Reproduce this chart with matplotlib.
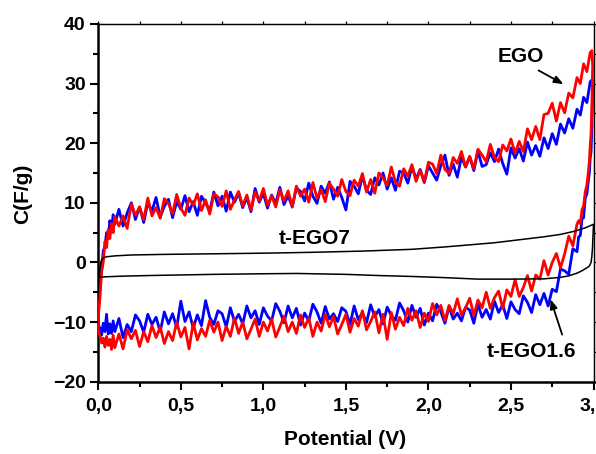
import numpy as np
import matplotlib
matplotlib.use("Agg")
import matplotlib.pyplot as plt
from matplotlib.ticker import MultipleLocator, FixedLocator

plt.rcParams['font.family'] = ['Liberation Sans', 'DejaVu Sans']
plt.rcParams['font.weight'] = 'bold'

# ---------------- data ----------------
x_ticks = [0.0, 0.5, 1.0, 1.5, 2.0, 2.5, 3.0]
x_tick_labels = ["0,0", "0,5", "1,0", "1,5", "2,0", "2,5", "3,0"]
y_ticks = [-20, -10, 0, 10, 20, 30, 40]

# forward (anodic) sweep potentials, V
potential_fwd = [0.00, 0.01, 0.02, 0.03, 0.04, 0.05, 0.06, 0.07, 0.08, 0.09,
                 0.100, 0.125, 0.150, 0.175, 0.200, 0.225, 0.250, 0.275,
                 0.300, 0.325, 0.350, 0.375, 0.400, 0.425, 0.450, 0.475,
                 0.500, 0.525, 0.550, 0.575, 0.600, 0.625, 0.650, 0.675,
                 0.700, 0.725, 0.750, 0.775, 0.800, 0.825, 0.850, 0.875,
                 0.900, 0.925, 0.950, 0.975, 1.000, 1.025, 1.050, 1.075,
                 1.100, 1.125, 1.150, 1.175, 1.200, 1.225, 1.250, 1.275,
                 1.300, 1.325, 1.350, 1.375, 1.400, 1.425, 1.450, 1.475,
                 1.500, 1.525, 1.550, 1.575, 1.600, 1.625, 1.650, 1.675,
                 1.700, 1.725, 1.750, 1.775, 1.800, 1.825, 1.850, 1.875,
                 1.900, 1.925, 1.950, 1.975, 2.000, 2.025, 2.050, 2.075,
                 2.100, 2.125, 2.150, 2.175, 2.200, 2.225, 2.250, 2.275,
                 2.300, 2.325, 2.350, 2.375, 2.400, 2.425, 2.450, 2.475,
                 2.500, 2.525, 2.550, 2.575, 2.600, 2.625, 2.650, 2.675,
                 2.700, 2.725, 2.750, 2.775, 2.800, 2.825, 2.850, 2.875,
                 2.900, 2.92, 2.94, 2.96, 2.98, 2.99]

# reverse (cathodic) sweep potentials, V
potential_rev = [2.995, 2.99, 2.985, 2.98, 2.975, 2.97, 2.96, 2.95, 2.94, 2.93, 2.92, 2.91,
                 2.900, 2.875, 2.850, 2.825, 2.800, 2.775, 2.750, 2.725,
                 2.700, 2.675, 2.650, 2.625, 2.600, 2.575, 2.550, 2.525,
                 2.500, 2.475, 2.450, 2.425, 2.400, 2.375, 2.350, 2.325,
                 2.300, 2.275, 2.250, 2.225, 2.200, 2.175, 2.150, 2.125,
                 2.100, 2.075, 2.050, 2.025, 2.000, 1.975, 1.950, 1.925,
                 1.900, 1.875, 1.850, 1.825, 1.800, 1.775, 1.750, 1.725,
                 1.700, 1.675, 1.650, 1.625, 1.600, 1.575, 1.550, 1.525,
                 1.500, 1.475, 1.450, 1.425, 1.400, 1.375, 1.350, 1.325,
                 1.300, 1.275, 1.250, 1.225, 1.200, 1.175, 1.150, 1.125,
                 1.100, 1.075, 1.050, 1.025, 1.000, 0.975, 0.950, 0.925,
                 0.900, 0.875, 0.850, 0.825, 0.800, 0.775, 0.750, 0.725,
                 0.700, 0.675, 0.650, 0.625, 0.600, 0.575, 0.550, 0.525,
                 0.500, 0.475, 0.450, 0.425, 0.400, 0.375, 0.350, 0.325,
                 0.300, 0.275, 0.250, 0.225, 0.200, 0.175, 0.150, 0.125,
                 0.100,
                 0.09, 0.08, 0.07, 0.06, 0.05, 0.04, 0.03, 0.02, 0.01, 0.00]

# EGO (red), capacitance F/g
ego_fwd = [-9.0, -6.0, -1.5, 0.0, 3.5, 2.5, 5.5, 4.0, 6.5, 5.0,
           7.7, 6.1, 7.8, 5.7,
           9.8, 7.9, 9.3, 7.2,
           10.8, 7.8, 9.2, 7.4,
           10.7, 9.9, 8.2, 11.4,
           9.1, 7.9, 10.8, 9.6,
           11.5, 8.7, 10.5, 8.1,
           11.5, 11.0, 9.4, 12.0,
           8.9, 10.5, 11.9, 9.5,
           11.3, 8.8, 11.8, 10.3,
           12.4, 9.6, 11.2, 9.3,
           12.2, 10.3, 12.0, 9.3,
           12.8, 11.1, 12.3, 10.1,
           13.4, 10.8, 12.2, 10.2,
           13.3, 12.3, 11.1, 13.9,
           11.9, 11.2, 13.8, 12.8,
           14.9, 11.8, 13.9, 11.6,
           15.0, 14.2, 12.9, 16.0,
           13.5, 12.8, 15.7, 14.5,
           16.4, 13.6, 15.5, 13.5,
           16.8, 16.5, 14.9, 18.0,
           15.6, 14.9, 17.6, 16.6,
           18.6, 16.0, 17.8, 15.7,
           19.0, 18.0, 16.9, 19.8,
           17.6, 16.9, 19.7, 18.7,
           20.7, 18.3, 20.3, 18.6,
           22.4, 20.6, 22.8, 20.6,
           24.8, 25.0, 26.7, 23.7,
           26.8, 25.1, 28.4, 27.6,
           31.0, 30.0, 33.3, 32.0, 35.2, 35.5]
ego_rev = [33.0, 26.0, 21.5, 19.5, 17.0, 15.5, 13.0, 11.8, 9.5, 8.8, 6.5, 7.0,
           6.4, 2.8, 4.4, 1.4,
           -0.9, 1.5, 0.0, -2.1,
           0.3, -2.8, -2.1, -4.8,
           -2.2, -4.2, -5.7, -2.9,
           -5.7, -4.6, -7.7, -4.8,
           -5.9, -7.7, -5.0, -7.6,
           -6.3, -8.9, -6.0, -7.6,
           -8.8, -6.1, -8.6, -7.2,
           -9.8, -7.2, -8.8, -6.9,
           -9.9, -8.5, -10.9, -8.1,
           -9.7, -7.7, -10.6, -9.2,
           -11.2, -8.4, -12.9, -8.7,
           -11.8, -8.3, -9.9, -11.3,
           -8.1, -10.7, -9.4, -11.7,
           -8.7, -10.4, -12.0, -9.1,
           -10.8, -8.7, -11.5, -10.0,
           -12.4, -9.3, -10.9, -8.8,
           -11.9, -10.0, -11.6, -9.0,
           -10.8, -12.5, -9.5, -11.5,
           -10.0, -12.4, -9.5, -11.2,
           -12.8, -10.0, -11.9, -9.3,
           -12.4, -10.7, -13.1, -10.0,
           -11.7, -9.7, -12.4, -11.1,
           -13.0, -10.1, -14.5, -10.9,
           -12.5, -10.0, -13.1, -11.6,
           -13.6, -10.8, -12.6, -10.6,
           -13.3, -11.6, -14.1, -11.4,
           -12.8, -11.3, -14.5, -12.0,
           -14.3,
           -12.2, -14.6, -12.9, -13.9, -12.4, -14.2, -12.7, -13.5, -12.3, -11.5]

# t-EGO1.6 (blue), capacitance F/g
tego16_fwd = [-7.5, -3.5, -1.5, 2.0, 2.5, 5.0, 4.0, 7.0, 5.5, 8.0,
              6.4, 8.9, 6.1, 8.3,
              10.0, 7.2, 9.3, 6.7,
              10.0, 8.6, 10.9, 7.6,
              9.4, 10.6, 7.5, 10.2,
              8.9, 11.2, 8.5, 10.2,
              7.9, 11.1, 10.0, 8.6,
              11.8, 9.5, 11.1, 8.6,
              11.8, 10.1, 11.6, 9.2,
              10.9, 8.5, 12.4, 10.1,
              11.6, 9.1, 11.3, 9.9,
              12.6, 9.7, 11.2, 9.3,
              12.5, 11.9, 10.3, 13.3,
              11.1, 9.9, 12.8, 11.6,
              13.5, 10.6, 12.6, 10.9,
              8.8, 13.6, 12.8, 11.5,
              14.5, 12.1, 11.4, 14.2,
              13.0, 15.0, 12.3, 14.2,
              12.1, 15.3, 15.0, 13.3,
              16.1, 14.0, 15.6, 13.4,
              16.2, 15.0, 13.8, 16.2,
              18.0, 14.6, 16.5, 14.3,
              17.7, 16.0, 17.7, 15.4,
              18.7, 16.1, 16.4, 18.4,
              16.9, 19.0, 16.6, 14.8,
              19.2, 17.5, 19.1, 17.0,
              20.2, 18.0, 19.6, 17.8,
              20.9, 19.1, 21.6, 19.8,
              23.2, 21.7, 24.1, 22.5,
              25.7, 24.7, 27.7, 26.8, 30.3, 30.6]
tego16_rev = [29.5, 22.5, 18.5, 17.5, 15.0, 14.0, 11.5, 10.8, 7.5, 7.3, 4.5, 4.3,
              1.8, 2.3, -2.0, -1.4,
              -1.1, -4.9, -4.5, -7.3,
              -5.2, -7.1, -5.4, -8.4,
              -6.7, -5.6, -8.6, -7.9,
              -6.6, -9.4, -7.1, -8.4,
              -6.5, -9.5, -7.9, -9.2,
              -7.0, -10.2, -8.0, -7.5,
              -9.8, -8.5, -9.5, -7.4,
              -10.2, -8.3, -7.0, -9.8,
              -8.5, -10.5, -7.7, -9.2,
              -7.2, -10.0, -8.1, -6.8,
              -9.7, -8.9, -7.5, -10.3,
              -7.9, -9.1, -7.1, -10.1,
              -8.4, -9.6, -7.3, -10.4,
              -8.2, -7.6, -9.9, -8.6,
              -9.5, -7.4, -10.2, -8.3,
              -7.0, -9.8, -8.5, -10.5,
              -7.7, -9.3, -7.3, -10.1,
              -8.2, -6.9, -9.8, -9.0,
              -7.6, -10.4, -8.1, -9.3,
              -7.3, -10.3, -8.7, -9.9,
              -7.6, -10.8, -8.6, -8.1,
              -10.4, -9.2, -6.4, -10.6,
              -8.8, -11.0, -8.3, -9.9,
              -6.5, -10.9, -8.6, -10.3,
              -8.3, -11.6, -9.2, -10.4,
              -8.7, -11.7, -9.8, -8.8,
              -11.6, -10.4, -12.6, -9.4,
              -11.6,
              -9.8, -11.9, -10.3, -12.0, -8.7, -11.6, -10.2, -12.2, -11.0, -10.5]

# t-EGO7 (black), smooth loop
tego7_fwd_v = [0.005, 0.01, 0.015, 0.02, 0.03, 0.05, 0.1, 0.2, 0.4, 0.7, 1.0, 1.3,
               1.6, 1.9, 2.1, 2.4, 2.55, 2.7, 2.8, 2.88, 2.95, 3.0]
tego7_fwd_c = [-2.4, -1.0, 0.0, 0.45, 0.75, 0.95, 1.1, 1.25, 1.35, 1.45, 1.55, 1.7,
               1.9, 2.2, 2.6, 3.3, 3.8, 4.3, 4.7, 5.2, 5.8, 6.4]
tego7_rev_v = [3.0, 2.997, 2.994, 2.99, 2.985, 2.975, 2.96, 2.93, 2.9, 2.85, 2.8, 2.7,
               2.5, 2.3, 2.1, 1.9, 1.7, 1.5, 1.2, 1.0, 0.7, 0.5, 0.3, 0.15, 0.05,
               0.02, 0.005]
tego7_rev_c = [6.4, 4.5, 2.5, 1.0, 0.0, -0.6, -0.9, -1.4, -1.8, -2.25, -2.5, -2.75,
               -2.8, -2.8, -2.55, -2.35, -2.2, -2.0, -1.85, -1.9, -2.0, -2.1, -2.2,
               -2.3, -2.4, -2.45, -2.4]

# ---------------- figure ----------------
fig = plt.figure(figsize=(5.96, 4.54), dpi=100)
ax = fig.add_axes([98.3 / 596, 1 - 381.7 / 454, (593.5 - 98.3) / 596, (381.7 - 23.9) / 454])

blue_x = np.concatenate([potential_fwd, potential_rev, potential_fwd[:1]])
blue_y = np.concatenate([tego16_fwd, tego16_rev, tego16_fwd[:1]])
red_x = np.concatenate([potential_fwd, potential_rev, potential_fwd[:1]])
red_y = np.concatenate([ego_fwd, ego_rev, ego_fwd[:1]])
blk_x = np.concatenate([tego7_fwd_v, tego7_rev_v])
blk_y = np.concatenate([tego7_fwd_c, tego7_rev_c])

ax.plot(blue_x, blue_y, color='#0000ff', lw=2.0, zorder=2)
ax.plot(red_x, red_y, color='#ff0000', lw=2.0, zorder=3)
ax.plot(blk_x, blk_y, color='black', lw=1.1, zorder=4)

ax.set_xlim(0, 3.0)
ax.set_ylim(-20, 40)
ax.xaxis.set_major_locator(FixedLocator(x_ticks))
ax.set_xticklabels(x_tick_labels)
ax.xaxis.set_minor_locator(MultipleLocator(0.25))
ax.yaxis.set_major_locator(FixedLocator(y_ticks))
ax.yaxis.set_minor_locator(MultipleLocator(5))

ax.tick_params(which='major', direction='out', length=6, width=1.5, labelsize=14)
ax.tick_params(which='minor', direction='out', length=3.5, width=1.5)
ax.tick_params(axis='x', which='major', pad=6)
ax.tick_params(axis='y', which='major', pad=3)

for s in ['left', 'bottom']:
    ax.spines[s].set_linewidth(1.8)
for s in ['top', 'right']:
    ax.spines[s].set_linewidth(0.9)

# mirrored short ticks on top and right
secx = ax.secondary_xaxis('top')
secx.xaxis.set_major_locator(MultipleLocator(0.25))
secx.tick_params(direction='out', length=2.5, width=0.9, labeltop=False)
secx.spines['top'].set_linewidth(0.9)
secy = ax.secondary_yaxis('right')
secy.yaxis.set_major_locator(MultipleLocator(5))
secy.tick_params(direction='out', length=2.5, width=0.9, labelright=False)
secy.spines['right'].set_linewidth(0.9)

ax.set_xlabel('Potential (V)', fontsize=15, fontweight='bold')
ax.set_ylabel('C(F/g)', fontsize=15, fontweight='bold')
ax.xaxis.set_label_coords(0.498, -0.135)
ax.yaxis.set_label_coords(-0.134, 0.525)

ax.text(2.56, 34.5, 'EGO', fontsize=15, fontweight='bold', ha='center', va='center')
ax.annotate('', xy=(2.818, 29.9), xytext=(2.667, 32.2),
            arrowprops=dict(arrowstyle='-|>,head_length=0.55,head_width=0.22',
                            color='black', lw=1.3, shrinkA=0, shrinkB=0))
ax.text(1.31, 3.97, 't-EGO7', fontsize=15, fontweight='bold', ha='center', va='center')
ax.text(2.625, -15.0, 't-EGO1.6', fontsize=15, fontweight='bold', ha='center', va='center')
ax.annotate('', xy=(2.74, -6.2), xytext=(2.81, -12.1),
            arrowprops=dict(arrowstyle='-|>,head_length=0.55,head_width=0.22',
                            color='black', lw=1.3, shrinkA=0, shrinkB=0))

fig.savefig('out.png', dpi=100)
